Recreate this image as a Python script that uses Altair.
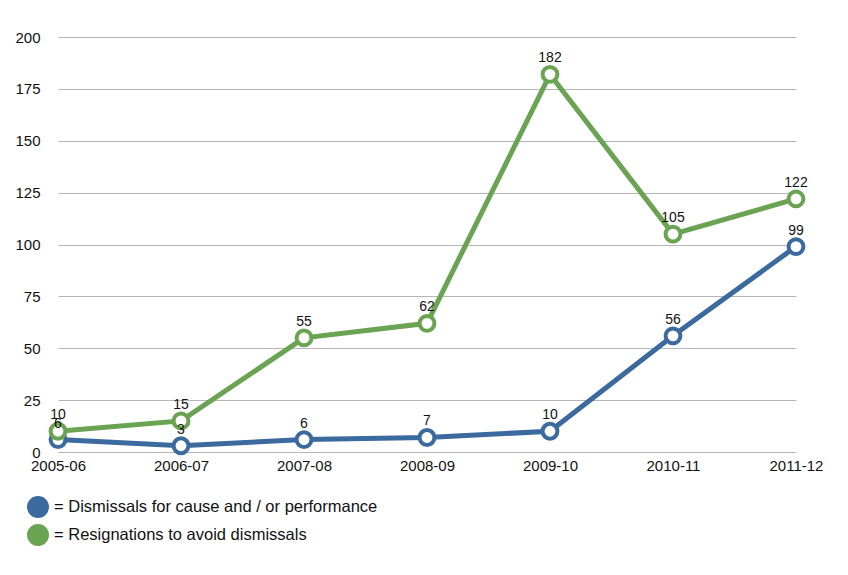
import altair as alt
import pandas as pd

years = ["2005-06", "2006-07", "2007-08", "2008-09", "2009-10", "2010-11", "2011-12"]
dismissals = [6, 3, 6, 7, 10, 56, 99]
resignations = [10, 15, 55, 62, 182, 105, 122]
series_names = ["Dismissals for cause and / or performance", "Resignations to avoid dismissals"]
colors = ["#3A6A9E", "#6AA352"]

rows = []
for y, v in zip(years, dismissals):
    rows.append({"year": y, "value": v, "series": series_names[0]})
for y, v in zip(years, resignations):
    rows.append({"year": y, "value": v, "series": series_names[1]})
df = pd.DataFrame(rows)

FONT = "Liberation Sans"

x = alt.X("year:O", sort=years, title=None,
          scale=alt.Scale(type="point", padding=0),
          axis=alt.Axis(labelAngle=0, domain=False, ticks=False, labelPadding=6,
                        labelFontSize=15, labelColor="#111", labelFont=FONT, grid=False))
y = alt.Y("value:Q", title=None,
          scale=alt.Scale(domain=[0, 200]),
          axis=alt.Axis(values=[0, 25, 50, 75, 100, 125, 150, 175, 200], domain=False, ticks=False,
                        labelPadding=18, labelFontSize=15, labelColor="#111", labelFont=FONT,
                        grid=True, gridColor="#b5b5b5", gridWidth=1))
cscale = alt.Scale(domain=series_names, range=colors)
color_nolegend = alt.Color("series:N", sort=series_names, scale=cscale, legend=None)
color_legend = alt.Color("series:N", sort=series_names, scale=cscale,
                         legend=alt.Legend(title=None, orient="none", legendX=-31, legendY=459,
                                           symbolType="circle", symbolSize=420,
                                           symbolOpacity=1, rowPadding=0,
                                           labelFontSize=16.5, labelFont=FONT, labelColor="#111",
                                           labelLimit=600, labelOffset=5,
                                           labelExpr="'= ' + datum.label"))

base = alt.Chart(df)
under = base.mark_circle(size=220, opacity=1).encode(x=x, y=y, color=color_legend)
lines = base.mark_line(strokeWidth=5).encode(x=x, y=y, color=color_nolegend)
points = base.mark_point(filled=False, fill="white", fillOpacity=1, size=220, strokeWidth=4, opacity=1).encode(
    x=x, y=y, color=color_nolegend)
labels = base.mark_text(dy=-16, fontSize=14, font=FONT, color="#111").encode(x=x, y=y, text="value:Q")

chart = (under + lines + points + labels).properties(
    width=738, height=415,
    padding={"left": 50, "top": 29, "right": 44, "bottom": 100},
    autosize=alt.AutoSizeParams(type="none"),
    background="white",
).configure_view(stroke=None)

chart.save("out.html", embed_options={"renderer": "svg", "actions": False})
